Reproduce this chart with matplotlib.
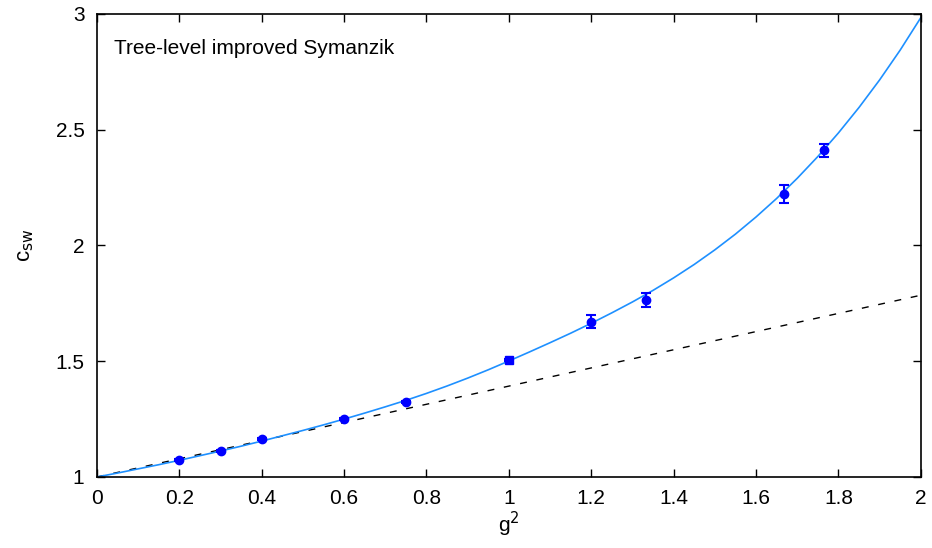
import numpy as np
import matplotlib
matplotlib.use("Agg")
import matplotlib.pyplot as plt

plt.rcParams["font.family"] = ["Liberation Sans", "DejaVu Sans"]

# Measured c_sw points (g^2, value, error)
g2_pts = [0.2, 0.3, 0.4, 0.6, 0.75, 1.2, 1.3333, 1.6667, 1.7647]
csw_pts = [1.072, 1.114, 1.164, 1.252, 1.323, 1.671, 1.765, 2.221, 2.411]
csw_err = [0.004, 0.004, 0.004, 0.004, 0.005, 0.027, 0.031, 0.039, 0.027]

# Point at g^2 = 1 drawn with a square marker
g2_sq = [1.0]
csw_sq = [1.505]
csw_sq_err = [0.006]

g2_fit = np.round(np.arange(41) * 0.05, 2)
csw_fit = [1.000, 1.017, 1.035, 1.053, 1.072, 1.092, 1.112, 1.133, 1.155, 1.178,
           1.201, 1.225, 1.250, 1.276, 1.303, 1.331, 1.361, 1.393, 1.427, 1.463,
           1.501, 1.540, 1.580, 1.621, 1.664, 1.709, 1.756, 1.806, 1.860, 1.918,
           1.981, 2.049, 2.123, 2.203, 2.290, 2.384, 2.486, 2.596, 2.715, 2.844,
           2.984]

# One-loop perturbative line
g2_pt = [0.0, 2.0]
csw_pt = [1.0, 1.785]

xtick_vals = [0, 0.2, 0.4, 0.6, 0.8, 1.0, 1.2, 1.4, 1.6, 1.8, 2.0]
xtick_labels = ["0", "0.2", "0.4", "0.6", "0.8", "1", "1.2", "1.4", "1.6", "1.8", "2"]
ytick_vals = [1, 1.5, 2, 2.5, 3]
ytick_labels = ["1", "1.5", "2", "2.5", "3"]

fig = plt.figure(figsize=(9.32, 5.48), dpi=100)
ax = fig.add_axes([0.104, 0.1296, 0.884, 0.845])

ax.plot(g2_fit, csw_fit, color="#1e90ff", lw=1.2, zorder=2)
ax.plot(g2_pt, csw_pt, color="black", lw=1.0, ls=(0, (5, 7)), zorder=1)
ax.errorbar(g2_pts, csw_pts, yerr=csw_err, fmt="o", color="#0000ff", ms=6,
            elinewidth=1.5, capsize=3.5, capthick=1.5, zorder=3)
ax.errorbar(g2_sq, csw_sq, yerr=csw_sq_err, fmt="s", color="#0000ff", ms=5.5,
            elinewidth=1.5, capsize=3.5, capthick=1.5, zorder=3)

ax.set_xlim(0, 2)
ax.set_ylim(1, 3)
ax.set_xticks(xtick_vals)
ax.set_xticklabels(xtick_labels)
ax.set_yticks(ytick_vals)
ax.set_yticklabels(ytick_labels)
ax.tick_params(direction="in", length=6, width=1, top=True, right=True,
               labelsize=15, pad=9)
for s in ax.spines.values():
    s.set_linewidth(1.2)

ax.set_xlabel("g$^2$", fontsize=15, labelpad=1)
ax.set_ylabel("c$_{\\rm sw}$", fontsize=16, labelpad=14)
ax.text(0.021, 0.925, "Tree-level improved Symanzik", transform=ax.transAxes,
        fontsize=15, va="center", ha="left")

fig.savefig("out.png", dpi=100)
